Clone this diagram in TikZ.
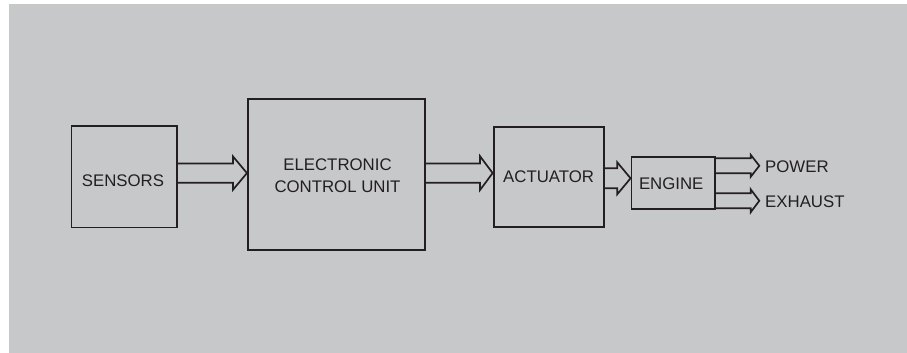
\documentclass[tikz,border=0pt]{standalone}
\usepackage{fontspec}
\setmainfont{Liberation Sans}
\usetikzlibrary{calc}
\definecolor{bg}{HTML}{C7C8CA}
\definecolor{ink}{HTML}{231F20}
\tikzset{
  blockbox/.style={draw=ink, line width=1.9pt, inner sep=0pt, anchor=center},
  lbl/.style={text=ink, inner sep=0pt, align=center, font=\fontsize{16.8}{22.5}\selectfont},
  conn/.style={draw=ink, line width=1.7pt, line join=miter},
}
% #1 start anchor, #2 tip anchor/coordinate, #3 centre y, #4 half gap, #5 head half height, #6 head length
\newcommand\hollowarrow[6]{%
  \path (#1 |- 0,#3) coordinate (ha-s) (#2 |- 0,#3) coordinate (ha-t);
  \draw[conn] ($(ha-s)+(0,-#4)$) -- ($(ha-t)+(-#6,-#4)$) -- ($(ha-t)+(-#6,-#5)$) -- (ha-t)
     -- ($(ha-t)+(-#6,#5)$) -- ($(ha-t)+(-#6,#4)$) -- ($(ha-s)+(0,#4)$);
}
\begin{document}
\begin{tikzpicture}[x=1pt,y=-1pt]
\useasboundingbox (0,0) rectangle (907,353);
\fill[white] (0,0) rectangle (907,353);
\fill[bg] (9,4) rectangle (907,353);

\node[blockbox, minimum width=105.5pt, minimum height=101.5pt] (sensors) at (124.2,176.7) {};
\node[blockbox, minimum width=176.8pt, minimum height=151.5pt] (ecu) at (336.3,174.4) {};
\node[blockbox, minimum width=110pt, minimum height=100.8pt] (act) at (548.6,177) {};
\node[blockbox, minimum width=83.6pt, minimum height=52.5pt] (engine) at (673.3,182.9) {};

\node[lbl] (sensorslbl) at (123,181) {SENSORS};
\node[lbl] (ecullbl) at (337.5,175.5) {ELECTRONIC\\CONTROL UNIT};
\node[lbl] (actlbl) at (548.6,177) {ACTUATOR};
\node[lbl] (enginelbl) at (671.2,183.5) {ENGINE};

\hollowarrow{sensors.east}{ecu.west}{173.1}{9.7}{16.7}{14}
\hollowarrow{ecu.east}{act.west}{173.1}{9.7}{17}{12.7}
\hollowarrow{act.east}{engine.west}{178.3}{10}{16}{13.3}

\coordinate (powtip) at (759.3,165.8);
\coordinate (exhtip) at (759.3,200.8);
\hollowarrow{engine.east}{powtip}{165.8}{7.5}{11}{8.6}
\hollowarrow{engine.east}{exhtip}{200.8}{7.5}{11.5}{8.6}

\node[lbl, anchor=west] (power) at (765,166.7) {POWER};
\node[lbl, anchor=west] (exhaust) at (765,201.7) {EXHAUST};
\end{tikzpicture}
\end{document}
